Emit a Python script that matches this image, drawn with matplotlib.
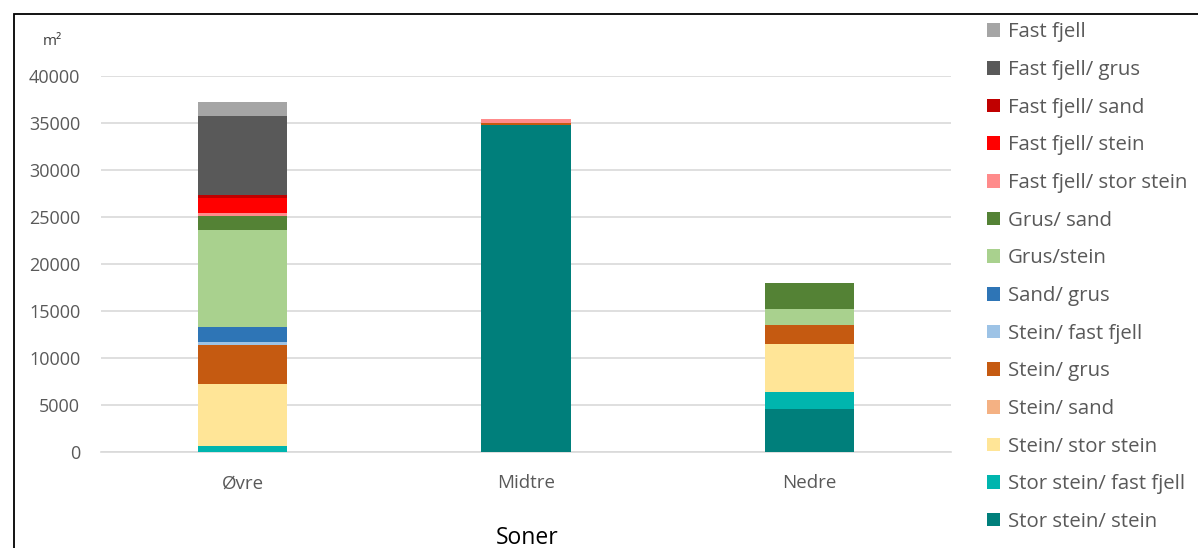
import matplotlib

matplotlib.use("Agg")
import matplotlib.pyplot as plt  # noqa: E402
from matplotlib.patches import Patch, Rectangle  # noqa: E402

plt.rcParams["font.family"] = ["Open Sans", "DejaVu Sans"]

zones = ["Øvre", "Midtre", "Nedre"]

# substrate classes, bottom of the stack first
classes = [
    "Stor stein/ stein",
    "Stor stein/ fast fjell",
    "Stein/ stor stein",
    "Stein/ sand",
    "Stein/ grus",
    "Stein/ fast fjell",
    "Sand/ grus",
    "Grus/stein",
    "Grus/ sand",
    "Fast fjell/ stor stein",
    "Fast fjell/ stein",
    "Fast fjell/ sand",
    "Fast fjell/ grus",
    "Fast fjell",
]

# area in m2 per class, one list per zone (same order as classes)
ovre = [0, 600, 6600, 0, 4150, 300, 1650, 10360, 1420, 350, 1640, 300, 8330, 1520]
midtre = [34790, 0, 0, 0, 245, 0, 0, 0, 0, 390, 0, 0, 0, 0]
nedre = [4540, 1875, 5075, 0, 1985, 0, 0, 1740, 2730, 0, 0, 0, 0, 0]

colors = [
    "#007F7B", "#00B5AE", "#FFE597", "#F4B183", "#C55A11", "#9DC3E6", "#2E75B6",
    "#A9D18E", "#548235", "#FF8B8B", "#FF0000", "#C00000", "#595959", "#A5A5A5",
]

fig = plt.figure(figsize=(11.98, 5.48), dpi=100)
ax = fig.add_axes([0.0843, 0.1752, 0.7095, 0.6861])

x = range(len(zones))
bottoms = [0.0] * len(zones)
for i, (name, color) in enumerate(zip(classes, colors)):
    vals = [ovre[i], midtre[i], nedre[i]]
    ax.bar(x, vals, width=0.315, bottom=bottoms, color=color, label=name, zorder=3)
    bottoms = [b + v for b, v in zip(bottoms, vals)]

ax.set_xlim(-0.5, 2.5)
ax.set_ylim(0, 40000)
ax.set_yticks(range(0, 40001, 5000))
ax.set_xticks(list(x))
ax.set_xticklabels(zones)
ax.tick_params(axis="both", length=0, labelsize=13, colors="#595959")
ax.tick_params(axis="x", labelsize=13.5, pad=16)
ax.tick_params(axis="y", pad=15)
ax.grid(axis="y", color="#D9D9D9", linewidth=1.2, zorder=0)
for side in ("top", "right", "left"):
    ax.spines[side].set_visible(False)
ax.spines["bottom"].set_color("#D9D9D9")
ax.spines["bottom"].set_linewidth(1.2)

fig.text(0.044, 0.925, "m²", fontsize=11, color="#404040", ha="center", va="center")
fig.text(0.44, 0.019, "Soner", fontsize=16.5, color="black", ha="center", va="center")

handles = [Patch(facecolor=c, edgecolor="none") for c in colors][::-1]
fig.legend(handles, classes[::-1], loc="upper left", bbox_to_anchor=(0.815, 0.978),
           frameon=False, fontsize=14.7, labelcolor="#595959", handlelength=0.65,
           handleheight=0.65, handletextpad=0.4, labelspacing=0.865, borderpad=0)

# outer chart frame (runs past the right and bottom edges)
fig.patches.append(Rectangle((0.0117, -0.1), 1.1, 1.075, transform=fig.transFigure,
                             fill=False, edgecolor="black", linewidth=1.3))

fig.savefig("out.png", dpi=100)
